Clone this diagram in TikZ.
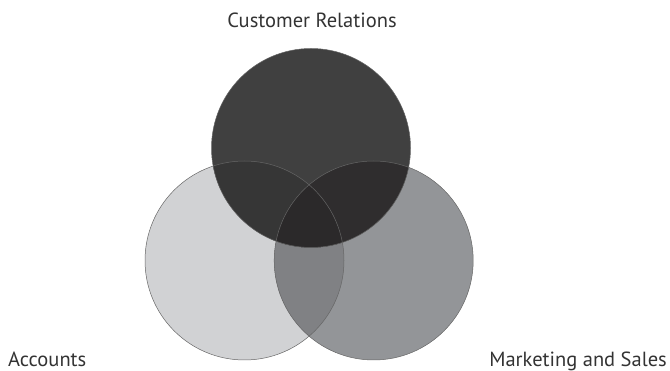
\documentclass[tikz,border=0pt]{standalone}
\usepackage{fontspec}
\setmainfont{PT Sans}
\begin{document}
\begin{tikzpicture}[x=1pt,y=-1pt,
  ring/.style={draw=black!60,line width=0.5pt},
  lbl/.style={font=\fontsize{20.5}{24}\selectfont,text=black!80,inner sep=0pt}]
\useasboundingbox (0,0) rectangle (670,371);
% circle centres and radius
\def\R{99.5}
\coordinate (cr) at (311,148);
\coordinate (ac) at (244.5,260.5);
\coordinate (ms) at (373.7,260.5);
% base discs
\fill[fill={rgb,255:red,209;green,210;blue,212}] (ac) circle (\R);
\fill[fill={rgb,255:red,147;green,149;blue,152}] (ms) circle (\R);
\fill[fill={rgb,255:red,64;green,64;blue,64}] (cr) circle (\R);
% pairwise overlaps
\begin{scope}
  \clip (ac) circle (\R);
  \fill[fill={rgb,255:red,128;green,129;blue,132}] (ms) circle (\R);
  \fill[fill={rgb,255:red,54;green,54;blue,54}] (cr) circle (\R);
\end{scope}
\begin{scope}
  \clip (ms) circle (\R);
  \fill[fill={rgb,255:red,47;green,45;blue,46}] (cr) circle (\R);
\end{scope}
% triple overlap
\begin{scope}
  \clip (ac) circle (\R);
  \clip (ms) circle (\R);
  \fill[fill={rgb,255:red,43;green,41;blue,42}] (cr) circle (\R);
\end{scope}
% outlines
\draw[ring] (ac) circle (\R);
\draw[ring] (ms) circle (\R);
\draw[ring] (cr) circle (\R);
% labels
\node[lbl,anchor=base] (tcr) at (312,28) {Customer Relations};
\node[lbl,anchor=base west] (tac) at (8,366.5) {Accounts};
\node[lbl,anchor=base east] (tms) at (667,366.5) {Marketing and Sales};
\end{tikzpicture}
\end{document}
